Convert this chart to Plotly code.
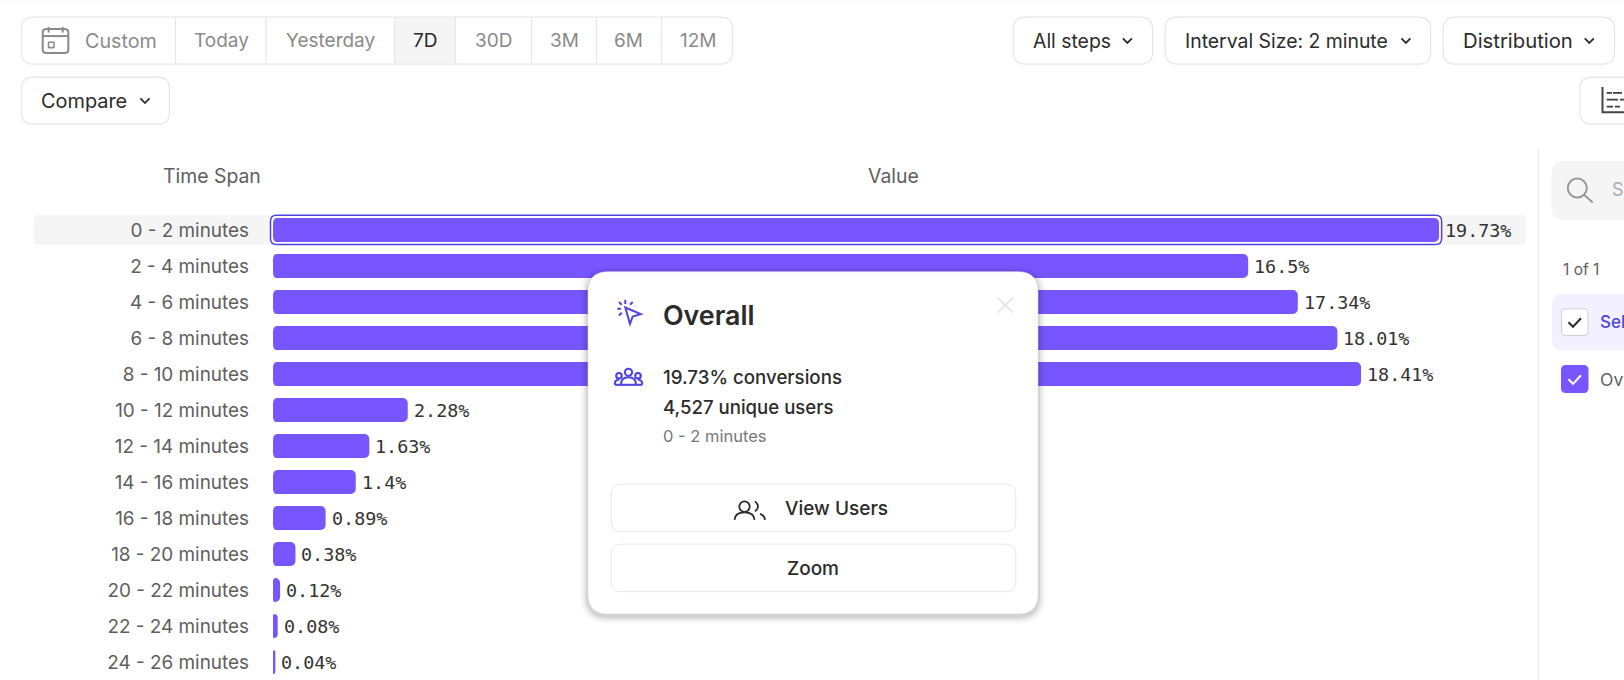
import plotly.graph_objects as go

# values
time_spans = ["0 - 2 minutes", "2 - 4 minutes", "4 - 6 minutes", "6 - 8 minutes", "8 - 10 minutes",
              "10 - 12 minutes", "12 - 14 minutes", "14 - 16 minutes", "16 - 18 minutes",
              "18 - 20 minutes", "20 - 22 minutes", "22 - 24 minutes", "24 - 26 minutes"]
conversion = [19.73, 16.5, 17.34, 18.01, 18.41, 2.28, 1.63, 1.4, 0.89, 0.38, 0.12, 0.08, 0.04]

date_labels = ["Today", "Yesterday", "7D", "30D", "3M", "6M", "12M"]
date_centers = [221, 330.5, 425, 493.5, 564, 628.5, 698]
date_dividers = [175.5, 266, 394.5, 455.5, 531.5, 596.5, 661.5]

W, H = 1624, 680
FONT = "Inter"
MONO = "DejaVu Sans Mono"
PURPLE = "#7856FF"
INDIGO = "#4F44E0"
BORDER = "#E6E6E6"
DARK = "#2B2B2B"
GREY = "#8A8A8A"
LABEL = "#5E5E5E"

# plot area in pixels
left, top = 273, 212.3
right = 1540
px_per_pct = 59.1
row_px = 36
pw, ph = right - left, H - top


def fx(x):
    return (x - left) / pw


def fy(y):
    return 1 - (y - top) / ph


shapes = []
notes = []


def rrect(x0, y0, x1, y1, r=10, fill="rgba(0,0,0,0)", line=BORDER, lw=1.2, layer="above"):
    p = (f"M {fx(x0 + r)} {fy(y0)} L {fx(x1 - r)} {fy(y0)} Q {fx(x1)} {fy(y0)} {fx(x1)} {fy(y0 + r)} "
         f"L {fx(x1)} {fy(y1 - r)} Q {fx(x1)} {fy(y1)} {fx(x1 - r)} {fy(y1)} "
         f"L {fx(x0 + r)} {fy(y1)} Q {fx(x0)} {fy(y1)} {fx(x0)} {fy(y1 - r)} "
         f"L {fx(x0)} {fy(y0 + r)} Q {fx(x0)} {fy(y0)} {fx(x0 + r)} {fy(y0)} Z")
    shapes.append(dict(type="path", xref="paper", yref="paper", path=p, fillcolor=fill, layer=layer,
                       line=dict(color=line, width=lw)))


def stroke(pts, color=DARK, lw=2, close=False):
    # pts are (x, y) pixel pairs, straight segments only
    p = "M " + " L ".join(f"{fx(a)} {fy(b)}" for a, b in pts)
    if close:
        p += " Z"
    shapes.append(dict(type="path", xref="paper", yref="paper", path=p, layer="above",
                       line=dict(color=color, width=lw)))


def curve(x0, y0, cx, cy, x1, y1, color=DARK, lw=2):
    p = f"M {fx(x0)} {fy(y0)} Q {fx(cx)} {fy(cy)} {fx(x1)} {fy(y1)}"
    shapes.append(dict(type="path", xref="paper", yref="paper", path=p, layer="above",
                       line=dict(color=color, width=lw)))


def circle(cx, cy, r, color=DARK, lw=2):
    shapes.append(dict(type="circle", xref="paper", yref="paper", layer="above",
                       x0=fx(cx - r), x1=fx(cx + r), y0=fy(cy + r), y1=fy(cy - r),
                       line=dict(color=color, width=lw)))


def text(x, y, s, size=19.4, color=DARK, anchor="left", weight=400):
    notes.append(dict(x=fx(x), y=fy(y), xref="paper", yref="paper", text=s, showarrow=False,
                      xanchor=anchor, yanchor="middle", borderpad=0, borderwidth=0,
                      font=dict(family=FONT, size=size, color=color, weight=weight)))


def chevron(x, y, color=DARK):
    stroke([(x - 4.5, y - 2.2), (x, y + 2.4), (x + 4.5, y - 2.2)], color, 1.8)


# faint band at the very top
rrect(-2, -3, W + 2, 4, r=0, fill="#FBFBFB", line="rgba(0,0,0,0)", lw=0, layer="below")

# date range group
shapes.append(dict(type="rect", xref="paper", yref="paper", layer="below", x0=fx(394.5), x1=fx(455.5),
                   y0=fy(18), y1=fy(64), fillcolor="#F5F5F5", line=dict(width=0)))
rrect(21.5, 17.5, 732.5, 64.5, r=12)
for d in date_dividers:
    stroke([(d, 18), (d, 64)], BORDER, 1.2)
text(84.5, 41, "Custom", size=19.7, color=GREY)
for lab, cx in zip(date_labels, date_centers):
    text(cx, 41, lab, size=19, color=DARK if lab == "7D" else GREY, anchor="center")

# calendar icon
rrect(42.7, 29.3, 68.3, 53.3, r=3.5, line=GREY, lw=2)
stroke([(42.7, 36.5), (68.3, 36.5)], GREY, 2)
stroke([(48.7, 27.5), (48.7, 33)], GREY, 2)
stroke([(62.7, 27.5), (62.7, 33)], GREY, 2)
rrect(48.5, 42.7, 54, 48, r=0.5, line=GREY, lw=1.6)

# dropdowns
rrect(21.5, 77.5, 169.5, 124.5, r=12)
text(40.8, 101, "Compare", size=19.9)
chevron(145, 101)
rrect(1013.3, 17.5, 1152.6, 64.5, r=12)
text(1033.3, 41, "All steps")
chevron(1127.4, 41)
rrect(1165.2, 17.5, 1430.6, 64.5, r=12)
text(1184.6, 41, "Interval Size: 2 minute")
chevron(1405.9, 41)
rrect(1443.2, 17.5, 1614.5, 64.5, r=12)
text(1463, 41, "Distribution", size=20.3)
chevron(1589.3, 41)

# table view button, cut by the right edge
rrect(1580, 77.5, 1650, 124.5, r=12)
stroke([(1602.5, 87.3), (1602.5, 112.7), (1626, 112.7)], "#444444", 2)
for y, segs in [(93.3, [(1606.7, 1612), (1613, 1622)]), (100, [(1606.7, 1618), (1620, 1626)]),
                (107, [(1606.7, 1613), (1615, 1620)])]:
    for a, b in segs:
        stroke([(a, y), (b, y)], "#444444", 1.8)

# column headers
text(260.7, 176, "Time Span", color=LABEL, anchor="right")
text(893.5, 176, "Value", color=LABEL, anchor="center")

# hovered row behind the first bar, white pocket around the bar itself
rrect(33.7, 215, 1526, 245, r=4, fill="#F5F5F5", line="rgba(0,0,0,0)", lw=0, layer="below")
rrect(270.5, 215.5, left + conversion[0] * px_per_pct + 2.6, 244.7, r=6, fill="white",
      line="rgba(0,0,0,0)", lw=0, layer="below")

# the library only rounds the far end of a bar, so trim the near end with small masks
for i, v in enumerate(conversion):
    r = min(5.5, v * px_per_pct / 2)
    yc = top + row_px * (i + 0.5)
    for y0, y1 in [(yc - 12.5, yc - 12.5 + r + 0.5), (yc + 12.5, yc + 12.5 - r - 0.5)]:
        p = (f"M {fx(left - 0.5)} {fy(y0)} L {fx(left + r)} {fy(y0)} "
             f"Q {fx(left)} {fy(y0)} {fx(left)} {fy(y1)} L {fx(left - 0.5)} {fy(y1)} Z")
        shapes.append(dict(type="path", xref="paper", yref="paper", path=p, layer="above",
                           fillcolor="white", line=dict(width=0)))

# outline of the selected bar
rrect(270.5, 215.5, left + conversion[0] * px_per_pct + 2.6, 244.7, r=6, line=INDIGO, lw=1.5)

# legend side panel
stroke([(1538.3, 148), (1538.3, 680)], "#EEEEEE", 1.2)
rrect(1551.7, 161, 1660, 220, r=12, fill="#F5F5F5", line="rgba(0,0,0,0)", lw=0, layer="below")
circle(1577.3, 188.3, 9.5, "#999999", 2)
stroke([(1584, 195), (1592.7, 202.7)], "#999999", 2)
text(1611.5, 190, "S", size=18, color="#AAAAAA")
text(1563.3, 270, "1 of 1", size=15.5, color=LABEL)
rrect(1552, 294, 1660, 350.7, r=10, fill="#F3F1FF", line="rgba(0,0,0,0)", lw=0, layer="below")
rrect(1561.5, 309, 1588, 335.7, r=4, fill="white", line="#CFCFCF", lw=1)
stroke([(1568.5, 322.5), (1573, 327), (1581, 318.5)], DARK, 2)
text(1600, 322.7, "Sel", size=17, color=INDIGO, weight=500)
rrect(1561.5, 365.7, 1588, 392.7, r=4, fill=PURPLE, line=PURPLE, lw=1)
stroke([(1568.5, 379.5), (1573, 384), (1581, 375.5)], "white", 2)
text(1600, 380, "Ov", size=17.5, color=LABEL)

# popup card: soft shadow, then the card
for d, a in [(8, 0.02), (6, 0.03), (4, 0.05), (2, 0.08)]:
    rrect(588 - d, 272 - d + 2, 1038 + d, 614 + d + 2, r=20 + d, fill=f"rgba(0,0,0,{a})",
          line="rgba(0,0,0,0)", lw=0)
rrect(588, 272, 1038, 614, r=20, fill="white", line="#DDDDDD", lw=0.6)

stroke([(997.8, 297.8), (1012.8, 312.8)], "#E5E5E5", 1.8)
stroke([(1012.8, 297.8), (997.8, 312.8)], "#E5E5E5", 1.8)

# cursor icon
stroke([(625.3, 307.7), (640.7, 314.3), (632.7, 316.7), (630, 324)], INDIGO, 2, close=True)
stroke([(625.3, 300), (625.3, 304.3)], INDIGO, 2)
stroke([(617.3, 309), (621, 309)], INDIGO, 2)
stroke([(619, 302.3), (621.7, 305)], INDIGO, 2)
stroke([(632.7, 302.3), (630, 305)], INDIGO, 2)
stroke([(619, 315.7), (621.7, 313)], INDIGO, 2)
text(663, 315, "Overall", size=26.8, weight=600)

# group icon
circle(628.5, 372.5, 3.6, INDIGO, 2.1)
circle(619, 376, 2.8, INDIGO, 2.1)
circle(638, 376, 2.8, INDIGO, 2.1)
stroke([(615, 385), (642, 385)], INDIGO, 2.1)
curve(621, 385, 621, 377.5, 628.5, 377.5, INDIGO, 2.1)
curve(628.5, 377.5, 636, 377.5, 636, 385, INDIGO, 2.1)
curve(615, 385, 614, 380, 619, 380, INDIGO, 2.1)
curve(642, 385, 643, 380, 638, 380, INDIGO, 2.1)

text(663, 377.3, "19.73% conversions", size=18.7, weight=500)
text(663, 407.3, "4,527 unique users", size=18.6, weight=500)
text(663, 435.7, "0 - 2 minutes", size=16.5, color="#777777")

rrect(611.3, 484.3, 1015.7, 531.7, r=10, line="#E8E8E8", lw=1)
rrect(611.3, 544.3, 1015.7, 591.7, r=10, line="#E8E8E8", lw=1)
text(785, 508.3, "View Users", size=19, weight=500)
text(812.7, 568.3, "Zoom", size=19, anchor="center", weight=500)

# users icon
circle(744.5, 506.7, 5.2, DARK, 1.8)
curve(734.5, 520, 735, 512.5, 744.5, 512.5, DARK, 1.8)
curve(744.5, 512.5, 754, 512.5, 754.5, 520, DARK, 1.8)
curve(755, 501.5, 761, 506.5, 755, 511.5, DARK, 1.8)
curve(760, 514, 764.5, 515.5, 765, 520, DARK, 1.8)

# value labels sit on the data scales, a few pixels past each bar
for v, t in zip(conversion, time_spans):
    notes.append(dict(x=v, y=t, xref="x", yref="y", text=f"{v}%", showarrow=False, xanchor="left",
                      yanchor="middle", xshift=4, yshift=-0.5,
                      font=dict(family=MONO, size=18.4, color="#333333")))

fig = go.Figure(go.Bar(
    x=conversion,
    y=time_spans,
    orientation="h",
    marker=dict(color=PURPLE, cornerradius=5.5, line=dict(width=0)),
    hoverinfo="skip",
))

fig.update_layout(
    width=W,
    height=H,
    autosize=False,
    margin=dict(l=left, r=W - right, t=top, b=0, pad=0),
    paper_bgcolor="white",
    plot_bgcolor="rgba(0,0,0,0)",
    bargap=1 / 3,
    showlegend=False,
    font=dict(family=FONT),
    shapes=shapes,
    annotations=notes,
)
fig.update_xaxes(range=[0, pw / px_per_pct], visible=False, fixedrange=True)
fig.update_yaxes(type="category", range=[12.5, -0.5], showgrid=False, zeroline=False, showline=False,
                 ticks="", ticklabelstandoff=23, tickfont=dict(family=FONT, size=18.9, color=LABEL),
                 fixedrange=True)

fig.write_html("out.html", config={"displayModeBar": False},
               post_script="document.body.style.margin='0';")
